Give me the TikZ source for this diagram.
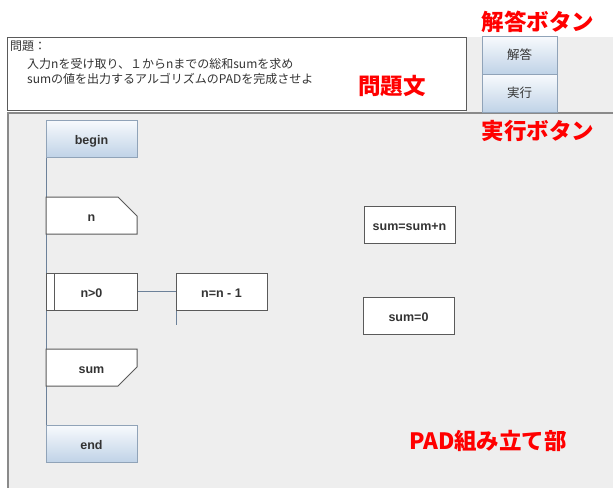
\documentclass[tikz,border=0pt]{standalone}
\usepackage{fontspec}
\setmainfont{Liberation Sans}
\newfontfamily\jpfont{Noto Sans CJK JP}
\usetikzlibrary{positioning,backgrounds}
\definecolor{panelgray}{HTML}{EEEEEE}
\definecolor{framegray}{HTML}{8A8A8A}
\definecolor{boxline}{HTML}{5A5A5A}
\definecolor{btntop}{HTML}{F8FAFD}
\definecolor{btnbot}{HTML}{C0D3E7}
\definecolor{btnline}{HTML}{90A3B8}
\definecolor{padline}{HTML}{6C8199}
\definecolor{labeltext}{HTML}{333333}
\tikzset{
    padnode/.style={anchor=north west, minimum width=91pt, minimum height=37pt, inner sep=0pt, outer sep=0pt, text height=11pt, text depth=0pt, text=labeltext, font=\fontsize{12.5}{14}\selectfont\bfseries},
    procbox/.style={padnode, draw=boxline, fill=white, line width=1pt},
    termbox/.style={padnode, draw=btnline, top color=btntop, bottom color=btnbot, line width=1pt},
    iobox/.style={padnode},
    iooutline/.style={draw=boxline, fill=white, line width=1pt},
    uibutton/.style={anchor=north west, minimum width=75pt, minimum height=38pt, inner sep=0pt, outer sep=0pt, draw=btnline, top color=btntop, bottom color=btnbot, text=labeltext, font=\jpfont\fontsize{12.5}{14}\selectfont},
    note/.style={text=red, inner sep=0pt, font=\jpfont\bfseries\fontsize{22.5}{26}\selectfont},
    qtext/.style={anchor=base west, inner sep=0pt, text=labeltext, font=\jpfont\fontsize{12}{15}\selectfont},
    padlink/.style={draw=padline, line width=1pt}
}

\begin{document}
\begin{tikzpicture}[x=1pt, y=-1pt]
\useasboundingbox (0,0) rectangle (613,488);

% problem text
\node[anchor=north west, draw=boxline, fill=white, line width=1.2pt, minimum width=459pt, minimum height=73pt, inner sep=0pt] (qbox) at (7,37) {};
\node[qtext] (q1) at (10,50) {問題：};
\node[qtext] (q2) at (27,68) {入力nを受け取り、１からnまでの総和sumを求め};
\node[qtext] (q3) at (27,83) {sumの値を出力するアルゴリズムのPADを完成させよ};

% buttons
\node[uibutton] (answer) at (482,36) {解答};
\node[uibutton] (run) at (482,74) {実行};

% PAD
\node[termbox] (begin) at (46,120) {begin};
\node[iobox] (nin) at (46,197) {n};
\node[procbox] (loop) at (46,273) {n>0};
\node[procbox] (dec) at (176,273) {n=n - 1};
\node[iobox] (out) at (46,349) {sum};
\node[termbox] (end) at (46,425) {end};
\node[procbox] (add) at (364,206) {sum=sum+n};
\node[procbox] (init) at (363,297) {sum=0};
\draw[boxline, line width=1pt] ([xshift=8pt]loop.north west) -- ([xshift=8pt]loop.south west);

% labels
\node[note] (lblanswer) at (538,22) {解答ボタン};
\node[note] (lblq) at (392,86) {問題文};
\node[note] (lblrun) at (538,131) {実行ボタン};
\node[note] (lblpad) at (488,441) {PAD組み立て部};

\begin{pgfonlayer}{background}
    \fill[white] (0,0) rectangle (613,488);
    \fill[panelgray] (466,37) rectangle (613,113);
    \fill[panelgray] (8,113) rectangle (613,488);
    \draw[framegray, line width=1.2pt] (613,113) -- (8,113) -- (8,488);
    \coordinate (dectail) at ([yshift=-15pt]dec.south west);
    \draw[padlink] (begin.south west) -- (end.north west);
    \draw[padlink] (loop.east) -- (dec.west);
    \draw[padlink] (dec.south west) -- (dectail);
    \filldraw[iooutline] (nin.south west) -- (nin.north west) -- ([xshift=-19pt]nin.north east) -- ([yshift=-19pt]nin.north east) -- (nin.south east) -- cycle;
    \filldraw[iooutline] (out.north west) -- (out.north east) -- ([yshift=19pt]out.south east) -- ([xshift=-19pt]out.south east) -- (out.south west) -- cycle;
\end{pgfonlayer}
\end{tikzpicture}
\end{document}
